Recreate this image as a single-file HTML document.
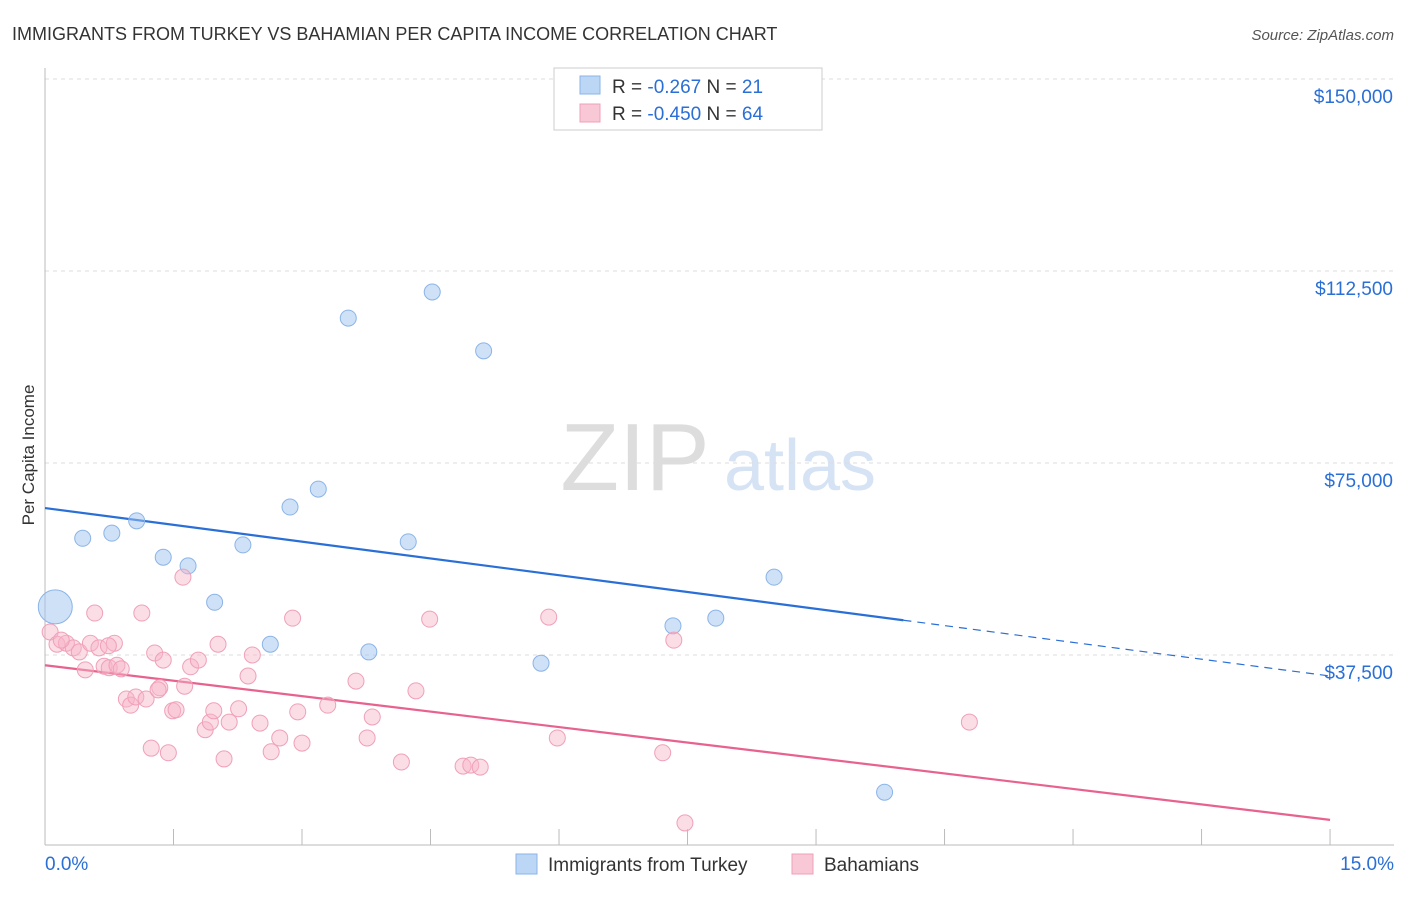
<!DOCTYPE html>
<html><head><meta charset="utf-8"><style>
body{margin:0;background:#fff;font-family:"Liberation Sans",sans-serif;}
svg text{font-family:"Liberation Sans",sans-serif;}
</style></head><body>
<svg id="chart" width="1406" height="892" xmlns="http://www.w3.org/2000/svg">
<text x="12" y="40" font-size="18" fill="#333">IMMIGRANTS FROM TURKEY VS BAHAMIAN PER CAPITA INCOME CORRELATION CHART</text>
<text x="1394" y="40" font-size="15" fill="#555" text-anchor="end" font-style="italic">Source: ZipAtlas.com</text>
<text x="34" y="455" font-size="17" fill="#333" text-anchor="middle" transform="rotate(-90 34 455)">Per Capita Income</text>
<g>
<text x="635" y="490" font-size="96" fill="#ddd" text-anchor="middle" font-family="Liberation Serif">ZIP</text>
<text x="800" y="490" font-size="72" fill="#d5e3f5" text-anchor="middle">atlas</text>
</g>
<g id="grid"></g><g id="axes"></g><g id="lines"></g><g id="pts"></g>
<g>
<rect x="554" y="68" width="268" height="62" fill="#fff" stroke="#ccc"/>
<rect x="580" y="76" width="20" height="18" fill="#bcd6f5" stroke="#8ab4e8"/>
<text x="612" y="93" font-size="19" fill="#333">R = <tspan fill="#2a6fd6">-0.267</tspan>    N = <tspan fill="#2a6fd6"> 21</tspan></text>
<rect x="580" y="104" width="20" height="18" fill="#f8c8d6" stroke="#f0a0b8"/>
<text x="612" y="120" font-size="19" fill="#333">R = <tspan fill="#2a6fd6">-0.450</tspan>    N = <tspan fill="#2a6fd6">64</tspan></text>
</g>
<g>
<rect x="516" y="854" width="21" height="20" fill="#bcd6f5" stroke="#8ab4e8"/>
<text x="548" y="871" font-size="19" fill="#333">Immigrants from Turkey</text>
<rect x="792" y="854" width="21" height="20" fill="#f8c8d6" stroke="#f0a0b8"/>
<text x="824" y="871" font-size="19" fill="#333">Bahamians</text>
</g>
</svg>
<script>
const yTicks=[37500,75000,112500,150000];
const yTickLabels=["$37,500","$75,000","$112,500","$150,000"];
const xTicks=[0,1.5,3,4.5,6,7.5,9,10.5,12,13.5,15];
const blueX=[0.12,0.44,0.78,1.07,1.38,1.67,1.98,2.31,2.63,2.86,3.19,3.54,3.78,4.24,4.52,5.12,5.79,7.33,7.83,8.51,9.80];
const blueY=[46.9,60.3,61.3,63.7,56.6,54.9,47.8,59.0,39.6,66.4,69.9,103.3,38.1,59.6,108.4,96.9,35.9,43.2,44.7,52.7,10.7];
const pinkX=[.06,.14,.25,.33,.40,.47,.53,.58,.63,.69,.75,.81,.84,.89,.95,1.00,1.06,1.13,1.18,1.24,1.28,1.34,1.38,1.44,1.49,1.53,1.61,1.63,1.70,1.79,1.87,1.93,1.97,2.02,2.09,2.15,2.26,2.37,2.42,2.51,2.64,2.74,2.89,2.95,3.00,3.30,3.63,3.76,3.82,4.16,4.33,4.49,4.88,4.97,5.08,5.88,5.98,7.21,7.34,7.47,10.79,.19,.74,1.32];
const pinkY=[42.0,39.6,39.8,38.9,38.1,34.6,39.8,45.7,38.9,35.3,35.0,39.8,35.5,34.8,28.9,27.7,29.3,45.7,28.9,19.3,37.9,31.1,36.5,18.4,26.6,26.8,52.7,31.4,35.2,36.5,22.9,24.4,26.6,39.6,17.2,24.4,27.0,33.4,37.5,24.2,18.6,21.3,44.7,26.4,20.3,27.7,32.4,21.3,25.4,16.6,30.5,44.5,15.8,16.0,15.6,44.9,21.3,18.4,40.4,4.7,24.4,40.4,39.3,30.7];
const blueTrend=[66.2,33.4], blueSolidEnd=10.02;
const pinkTrend=[35.5,5.3];
const NS="http://www.w3.org/2000/svg";
const sx=v=>45+v*85.67;
const sy=k=>847-k*1000/37500*192;
function mk(tag,attrs,parent){const e=document.createElementNS(NS,tag);for(const a in attrs)e.setAttribute(a,attrs[a]);document.getElementById(parent).appendChild(e);return e;}
yTicks.forEach((t,i)=>{
 const y=sy(t/1000);
 const g=mk('line',{x1:45,x2:1394,y1:y,y2:y,stroke:'#ddd','stroke-dasharray':'4,4'},'grid');
 
 
 const tx=mk('text',{x:1393,y:y+24,'font-size':19,fill:'#2a6fd6','text-anchor':'end'},'axes');
 tx.textContent=yTickLabels[i];
 
 
});
const ax=mk('line',{x1:45,x2:45,y1:68,y2:845,stroke:'#bbb'},'axes');


const bx=mk('line',{x1:45,x2:1394,y1:845,y2:845,stroke:'#bbb'},'axes');


xTicks.slice(1,-1).concat([15]).forEach(t=>{
 const x=sx(t);
 const l=mk('line',{x1:x,x2:x,y1:829,y2:845,stroke:'#bbb'},'axes');
 
 
});
const xl0=mk('text',{x:45,y:870,'font-size':19,fill:'#2a6fd6'},'axes');xl0.textContent='0.0%';


const xl1=mk('text',{x:1394,y:870,'font-size':19,fill:'#2a6fd6','text-anchor':'end'},'axes');xl1.textContent='15.0%';


blueX.forEach((x,i)=>{
 const c=mk('circle',{cx:sx(x),cy:sy(blueY[i]),r:i===0?17:8,fill:'rgba(160,196,240,0.5)',stroke:'#8ab4e8','stroke-width':1},'pts');
 
 
});
pinkX.forEach((x,i)=>{
 const c=mk('circle',{cx:sx(x),cy:sy(pinkY[i]),r:8,fill:'rgba(246,180,200,0.45)',stroke:'#f0a0b8','stroke-width':1},'pts');
 
 
});
const bv=x=>blueTrend[0]+(blueTrend[1]-blueTrend[0])*x/15;
const l1=mk('line',{x1:sx(0),y1:sy(bv(0)),x2:sx(blueSolidEnd),y2:sy(bv(blueSolidEnd)),stroke:'#2a6fd6','stroke-width':2.2},'lines');


const l2=mk('line',{x1:sx(blueSolidEnd),y1:sy(bv(blueSolidEnd)),x2:sx(15),y2:sy(bv(15)),stroke:'#2a6fd6','stroke-width':1.2,'stroke-dasharray':'8,6'},'lines');


const l3=mk('line',{x1:sx(0),y1:sy(pinkTrend[0]),x2:sx(15),y2:sy(pinkTrend[1]),stroke:'#e8628e','stroke-width':2.2},'lines');


</script>
</body></html>
